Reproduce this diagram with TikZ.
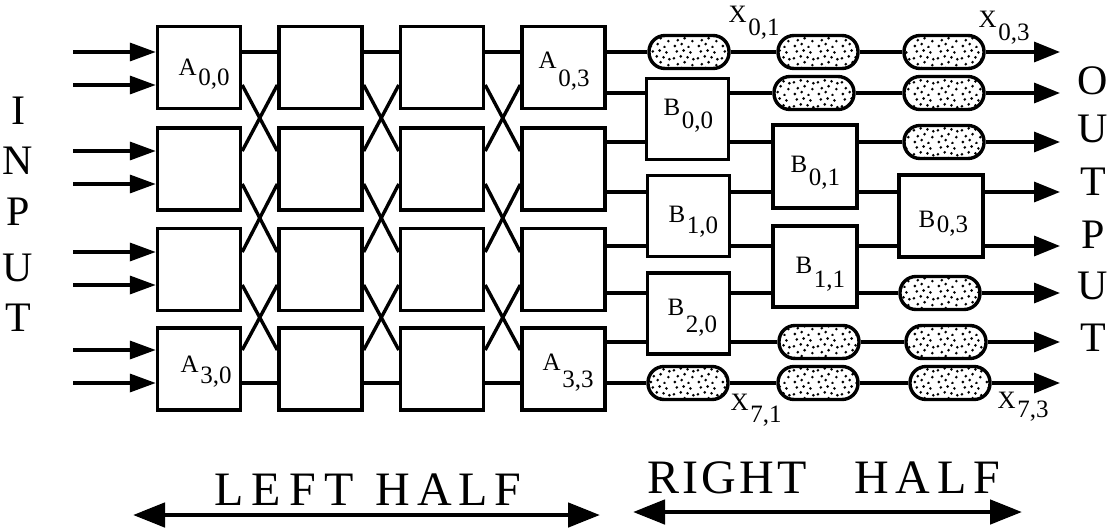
\documentclass[tikz,border=0pt]{standalone}
\usepackage{fontspec}
\setmainfont{Liberation Serif}
\usetikzlibrary{arrows.meta,calc,patterns}

% irregular stipple used inside the register pills
\pgfdeclarepatternformonly{stipple}{\pgfqpoint{0pt}{0pt}}{\pgfqpoint{24pt}{24pt}}{\pgfqpoint{24pt}{24pt}}{%
  \pgfpathcircle{\pgfqpoint{3pt}{2pt}}{1.5pt}
  \pgfpathcircle{\pgfqpoint{10pt}{4pt}}{1.5pt}
  \pgfpathcircle{\pgfqpoint{17pt}{1pt}}{1.5pt}
  \pgfpathcircle{\pgfqpoint{21pt}{7pt}}{1.5pt}
  \pgfpathcircle{\pgfqpoint{6pt}{8pt}}{1.5pt}
  \pgfpathcircle{\pgfqpoint{13pt}{10pt}}{1.5pt}
  \pgfpathcircle{\pgfqpoint{2pt}{14pt}}{1.5pt}
  \pgfpathcircle{\pgfqpoint{9pt}{16pt}}{1.5pt}
  \pgfpathcircle{\pgfqpoint{16pt}{15pt}}{1.5pt}
  \pgfpathcircle{\pgfqpoint{22pt}{13pt}}{1.5pt}
  \pgfpathcircle{\pgfqpoint{5pt}{21pt}}{1.5pt}
  \pgfpathcircle{\pgfqpoint{12pt}{22pt}}{1.5pt}
  \pgfpathcircle{\pgfqpoint{19pt}{20pt}}{1.5pt}
  \pgfusepath{fill}}

% letter, then a dropped index set at full size
\newcommand\sublab[3]{#1\kern1.5pt\raisebox{-#3pt}{#2}}

\begin{document}
\begin{tikzpicture}[x=1pt,y=-1pt,line width=3.4pt,
  blk/.style={draw,rectangle,minimum width=83pt,minimum height=82pt,inner sep=0pt},
  bblk/.style={draw,rectangle,minimum width=82pt,minimum height=81pt,inner sep=0pt},
  pill/.style={draw,rectangle,rounded corners=16pt,minimum width=80pt,minimum height=33pt,
    pattern=stipple,inner sep=0pt},
  inarrow/.style={-{Triangle[length=26pt,width=18pt]}},
  outarrow/.style={-{Triangle[length=26pt,width=20pt]}},
  halfspan/.style={line width=4.8pt,{Triangle[length=32pt,width=24pt]}-{Triangle[length=32pt,width=24pt]}},
  lab/.style={inner sep=0pt,font=\fontsize{25}{25}\selectfont,anchor=base west},
  big/.style={inner sep=0pt,font=\fontsize{42}{42}\selectfont},
  caption/.style={inner sep=0pt,font=\fontsize{48}{48}\selectfont,anchor=base west}]

\useasboundingbox (0,0) rectangle (1112,528);

% wire levels of the two halves
\foreach \i/\y in {0/52,1/85,2/151,3/184,4/252,5/285,6/350,7/383}{
  \coordinate (l\i) at (0,\y);
  \coordinate (in\i) at (73,\y);
}
\foreach \i/\y in {0/52,1/93,2/142,3/192,4/246,5/293,6/342,7/383}{
  \coordinate (r\i) at (0,\y);
  \coordinate (o\i) at (1060,\y);
}

% left half: 4 x 4 switches
\foreach \c/\x in {0/199,1/320.5,2/442,3/563.5}{
  \foreach \r/\y in {0/67.5,1/169,2/269.5,3/369}{
    \node[blk] (A\r\c) at (\x,\y) {};
  }
}

% right half: merging switches
\node[bblk] (B00) at (687.5,119) {};
\node[bblk] (B10) at (688.5,216) {};
\node[bblk] (B20) at (688.5,313.5) {};
\node[bblk,minimum width=84pt,minimum height=83pt] (B01) at (815,166.5) {};
\node[bblk,minimum width=84pt,minimum height=81pt] (B11) at (815,266.5) {};
\node[bblk,minimum width=84pt,minimum height=82pt] (B03) at (941,216) {};

% delay registers
\node[pill] (P00) at (689,52) {};
\node[pill] (P10) at (818,52) {};
\node[pill] (P20) at (944,52) {};
\node[pill] (P11) at (814,93) {};
\node[pill] (P21) at (944,93) {};
\node[pill] (P22) at (944,142) {};
\node[pill] (P25) at (940,293) {};
\node[pill] (P16) at (819,342) {};
\node[pill] (P26) at (946,342) {};
\node[pill] (P07) at (688,383) {};
\node[pill] (P17) at (818,383) {};
\node[pill] (P27) at (950,383) {};

% inputs
\foreach \i/\r in {0/0,1/0,2/1,3/1,4/2,5/2,6/3,7/3}
  \draw[inarrow] (in\i) -- (A\r0.west |- in\i);

% butterfly wiring between the left-half columns
\foreach \c/\d in {0/1,1/2,2/3}{
  \draw (A0\c.east |- l0) -- (A0\d.west |- l0);
  \draw (A3\c.east |- l7) -- (A3\d.west |- l7);
  \foreach \k/\kk/\a/\b in {0/1/1/2,1/2/3/4,2/3/5/6}{
    \draw (A\k\c.east |- l\a) -- (A\kk\d.west |- l\b);
    \draw (A\kk\c.east |- l\b) -- (A\k\d.west |- l\a);
  }
}

% left half into right half
\draw (A03.east |- r0) -- (P00.west);
\draw (A03.east |- r1) -- (B00.west |- r1);
\draw (A13.east |- r2) -- (B00.west |- r2);
\draw (A13.east |- r3) -- (B10.west |- r3);
\draw (A23.east |- r4) -- (B10.west |- r4);
\draw (A23.east |- r5) -- (B20.west |- r5);
\draw (A33.east |- r6) -- (B20.west |- r6);
\draw (A33.east |- r7) -- (P07.west);

% first merge stage
\draw (B00.east |- r1) -- (P11.west);
\draw (B00.east |- r2) -- (B01.west |- r2);
\draw (B10.east |- r3) -- (B01.west |- r3);
\draw (B10.east |- r4) -- (B11.west |- r4);
\draw (B20.east |- r5) -- (B11.west |- r5);
\draw (B20.east |- r6) -- (P16.west);
\draw (P00.east) -- (P10.west);
\draw (P07.east) -- (P17.west);

% second merge stage
\draw (B01.east |- r2) -- (P22.west);
\draw (B01.east |- r3) -- (B03.west |- r3);
\draw (B11.east |- r4) -- (B03.west |- r4);
\draw (B11.east |- r5) -- (P25.west);
\draw (P10.east) -- (P20.west);
\draw (P11.east) -- (P21.west);
\draw (P16.east) -- (P26.west);
\draw (P17.east) -- (P27.west);

% outputs
\draw[outarrow] (P20.east) -- (o0);
\draw[outarrow] (P21.east) -- (o1);
\draw[outarrow] (P22.east) -- (o2);
\draw[outarrow] (B03.east |- r3) -- (o3);
\draw[outarrow] (B03.east |- r4) -- (o4);
\draw[outarrow] (P25.east) -- (o5);
\draw[outarrow] (P26.east) -- (o6);
\draw[outarrow] (P27.east) -- (o7);

% switch labels
\node[lab] (tA00) at (177,75)  {\sublab{A}{0,0}{10}};
\node[lab] (tA30) at (179,372) {\sublab{A}{3,0}{11}};
\node[lab] (tA03) at (537,68)  {\sublab{A}{0,3}{18}};
\node[lab] (tA33) at (541,370) {\sublab{A}{3,3}{17}};
\node[lab] (tB00) at (662,115) {\sublab{B}{0,0}{13}};
\node[lab] (tB10) at (667,222) {\sublab{B}{1,0}{11}};
\node[lab] (tB20) at (666,315) {\sublab{B}{2,0}{17}};
\node[lab] (tB01) at (789,172) {\sublab{B}{0,1}{13}};
\node[lab] (tB11) at (794,273) {\sublab{B}{1,1}{14}};
\node[lab] (tB03) at (917,227) {\sublab{B}{0,3}{5}};
\node[lab] (tX01) at (727,22)  {\sublab{X}{0,1}{13}};
\node[lab] (tX03) at (977,27)  {\sublab{X}{0,3}{13}};
\node[lab] (tX71) at (729,410) {\sublab{X}{7,1}{12}};
\node[lab] (tX73) at (996,408) {\sublab{X}{7,3}{9}};

% side captions
\foreach \ch/\y [count=\n] in {I/111,N/161,P/212,U/268,T/318}
  \node[big] (inl\n) at (18,\y) {\ch};
\foreach \ch/\y [count=\n] in {O/81,U/129,T/182,P/235,U/286,T/338}
  \node[big] (outl\n) at (1093,\y) {\ch};

% halves
\coordinate (lh1) at (133,515);
\coordinate (lh2) at (600,515);
\coordinate (rh1) at (633,512);
\coordinate (rh2) at (1022,512);
\draw[halfspan] (lh1) -- (lh2);
\draw[halfspan] (rh1) -- (rh2);
\node[caption] (lhtext) at (213,505)
  {L\kern8pt E\kern8pt F\kern8pt T\kern22pt H\kern7pt A\kern7pt L\kern7pt F};
\node[caption] (rhtext) at (646,493)
  {R\kern3pt I\kern3pt G\kern3pt H\kern3pt T\kern48pt H\kern7pt A\kern7pt L\kern7pt F};
\end{tikzpicture}
\end{document}
